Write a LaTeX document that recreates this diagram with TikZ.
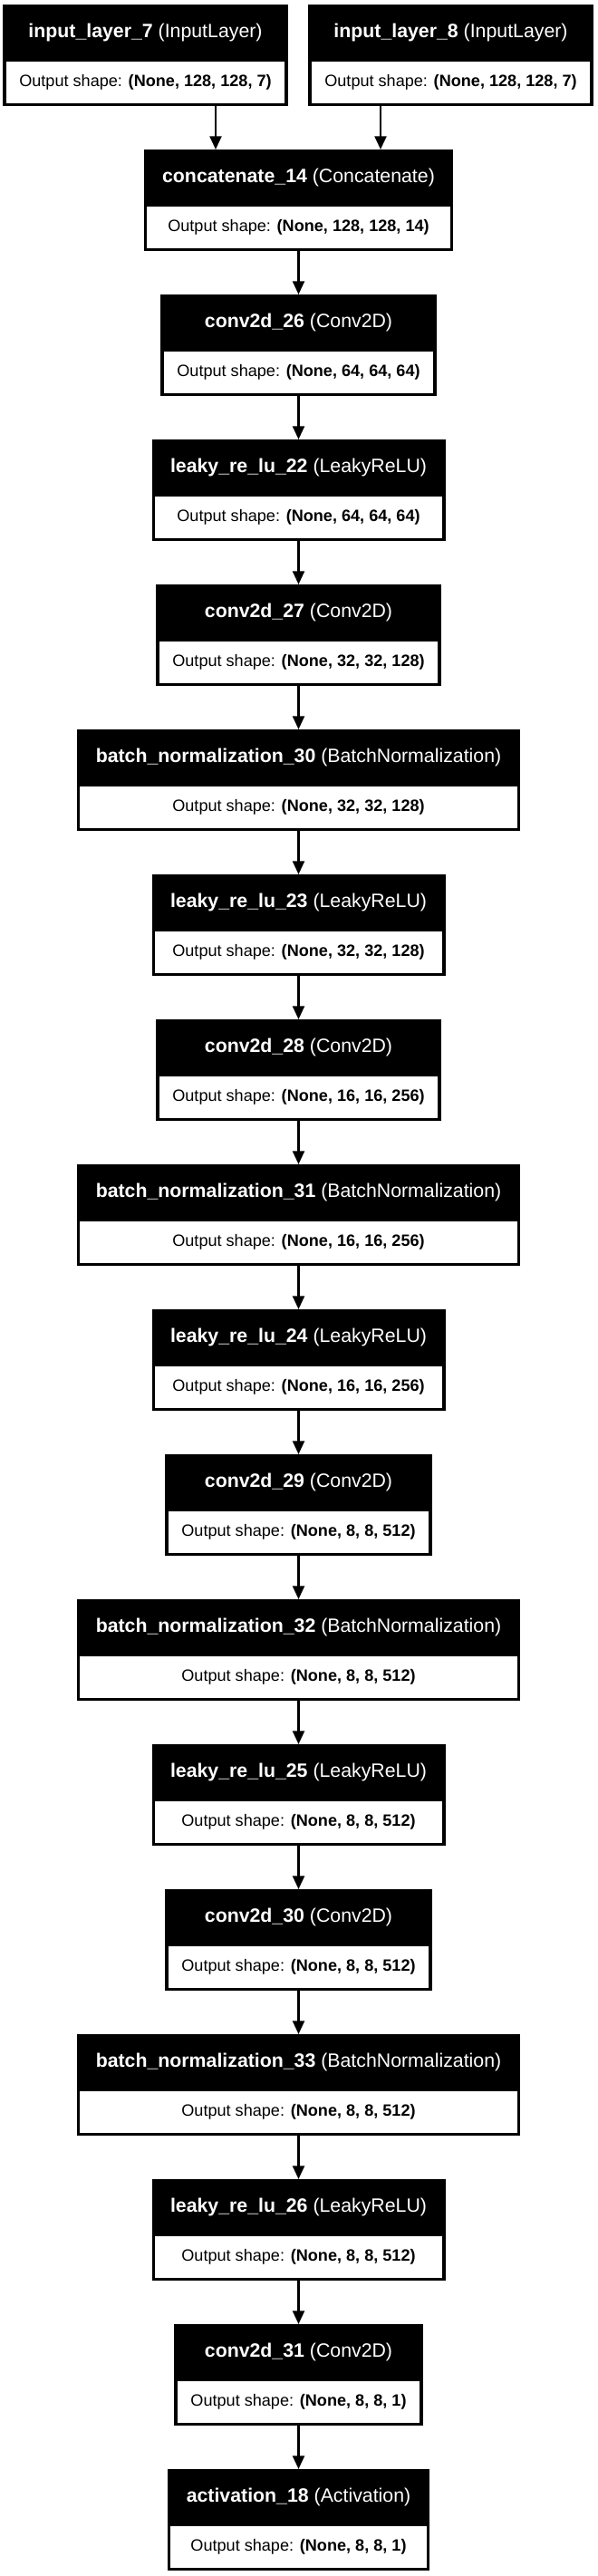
\documentclass[tikz,border=0pt]{standalone}
\usepackage{fontspec}
\usepackage{tikz}
\usetikzlibrary{positioning}
\usetikzlibrary{arrows.meta}

\newfontfamily\kerasfont{Liberation Sans}
\newcommand{\headfont}{\kerasfont\fontsize{10.65pt}{12pt}\selectfont}
\newcommand{\bodyfont}{\kerasfont\fontsize{9.05pt}{11pt}\selectfont}
\newlength{\headw}
\newlength{\bodyw}

\tikzset{
  layerhead/.style={fill=black,text=white,font=\headfont,minimum height=30.5pt,
    inner sep=2pt,outer sep=0pt,anchor=north},
  layerbody/.style={draw=black,fill=white,line width=1.6pt,font=\bodyfont,
    minimum height=24.75pt,inner sep=2pt,outer sep=0pt,anchor=north},
  flow/.style={line width=1.3pt,-{Triangle[length=7.3pt,width=6.4pt]}}
}

% one layer: #1 placement, #2 node name, #3 layer name, #4 layer type, #5 output shape
\newcommand{\kerasnode}[5]{%
  \pgfinterruptpicture
    \settowidth{\headw}{\headfont\textbf{#3} (#4)}\global\headw=\headw
    \settowidth{\bodyw}{\bodyfont Output shape: \textbf{#5}}\global\bodyw=\bodyw
  \endpgfinterruptpicture
  \pgfmathsetlengthmacro{\boxw}{max(\headw+20.5pt,\bodyw+18pt)}%
  \node [layerhead,minimum width=\boxw,#1] (#2) {\textbf{#3} (#4)};
  \node [layerbody,minimum width=\boxw-1.6pt,below=0pt of #2] (#2-out) {Output shape: \textbf{#5}};
}

\begin{document}
\begin{tikzpicture}[node distance=24.75pt]
    \useasboundingbox (0,0) rectangle (329.5pt,-1421.5pt);
    % Place nodes
    \kerasnode{at={(80.25pt,-2.5pt)}}{in7}{input\_layer\_7}{InputLayer}{(None, 128, 128, 7)}
    \kerasnode{at={(248.75pt,-2.5pt)}}{in8}{input\_layer\_8}{InputLayer}{(None, 128, 128, 7)}
    \kerasnode{at={(164.75pt,-82.5pt)}}{cat14}{concatenate\_14}{Concatenate}{(None, 128, 128, 14)}
    \kerasnode{below=of cat14-out}{conv26}{conv2d\_26}{Conv2D}{(None, 64, 64, 64)}
    \kerasnode{below=of conv26-out}{lrelu22}{leaky\_re\_lu\_22}{LeakyReLU}{(None, 64, 64, 64)}
    \kerasnode{below=of lrelu22-out}{conv27}{conv2d\_27}{Conv2D}{(None, 32, 32, 128)}
    \kerasnode{below=of conv27-out}{bn30}{batch\_normalization\_30}{BatchNormalization}{(None, 32, 32, 128)}
    \kerasnode{below=of bn30-out}{lrelu23}{leaky\_re\_lu\_23}{LeakyReLU}{(None, 32, 32, 128)}
    \kerasnode{below=of lrelu23-out}{conv28}{conv2d\_28}{Conv2D}{(None, 16, 16, 256)}
    \kerasnode{below=of conv28-out}{bn31}{batch\_normalization\_31}{BatchNormalization}{(None, 16, 16, 256)}
    \kerasnode{below=of bn31-out}{lrelu24}{leaky\_re\_lu\_24}{LeakyReLU}{(None, 16, 16, 256)}
    \kerasnode{below=of lrelu24-out}{conv29}{conv2d\_29}{Conv2D}{(None, 8, 8, 512)}
    \kerasnode{below=of conv29-out}{bn32}{batch\_normalization\_32}{BatchNormalization}{(None, 8, 8, 512)}
    \kerasnode{below=of bn32-out}{lrelu25}{leaky\_re\_lu\_25}{LeakyReLU}{(None, 8, 8, 512)}
    \kerasnode{below=of lrelu25-out}{conv30}{conv2d\_30}{Conv2D}{(None, 8, 8, 512)}
    \kerasnode{below=of conv30-out}{bn33}{batch\_normalization\_33}{BatchNormalization}{(None, 8, 8, 512)}
    \kerasnode{below=of bn33-out}{lrelu26}{leaky\_re\_lu\_26}{LeakyReLU}{(None, 8, 8, 512)}
    \kerasnode{below=of lrelu26-out}{conv31}{conv2d\_31}{Conv2D}{(None, 8, 8, 1)}
    \kerasnode{below=of conv31-out}{act18}{activation\_18}{Activation}{(None, 8, 8, 1)}

    % Connect layers
    \coordinate (j7) at (119pt,0);
    \coordinate (j8) at (210pt,0);
    \draw [flow] (in7-out.south -| j7) -- (cat14.north -| j7);
    \draw [flow] (in8-out.south -| j8) -- (cat14.north -| j8);
    \draw [flow] (cat14-out.south) -- (conv26.north);
    \draw [flow] (conv26-out.south) -- (lrelu22.north);
    \draw [flow] (lrelu22-out.south) -- (conv27.north);
    \draw [flow] (conv27-out.south) -- (bn30.north);
    \draw [flow] (bn30-out.south) -- (lrelu23.north);
    \draw [flow] (lrelu23-out.south) -- (conv28.north);
    \draw [flow] (conv28-out.south) -- (bn31.north);
    \draw [flow] (bn31-out.south) -- (lrelu24.north);
    \draw [flow] (lrelu24-out.south) -- (conv29.north);
    \draw [flow] (conv29-out.south) -- (bn32.north);
    \draw [flow] (bn32-out.south) -- (lrelu25.north);
    \draw [flow] (lrelu25-out.south) -- (conv30.north);
    \draw [flow] (conv30-out.south) -- (bn33.north);
    \draw [flow] (bn33-out.south) -- (lrelu26.north);
    \draw [flow] (lrelu26-out.south) -- (conv31.north);
    \draw [flow] (conv31-out.south) -- (act18.north);
\end{tikzpicture}
\end{document}
